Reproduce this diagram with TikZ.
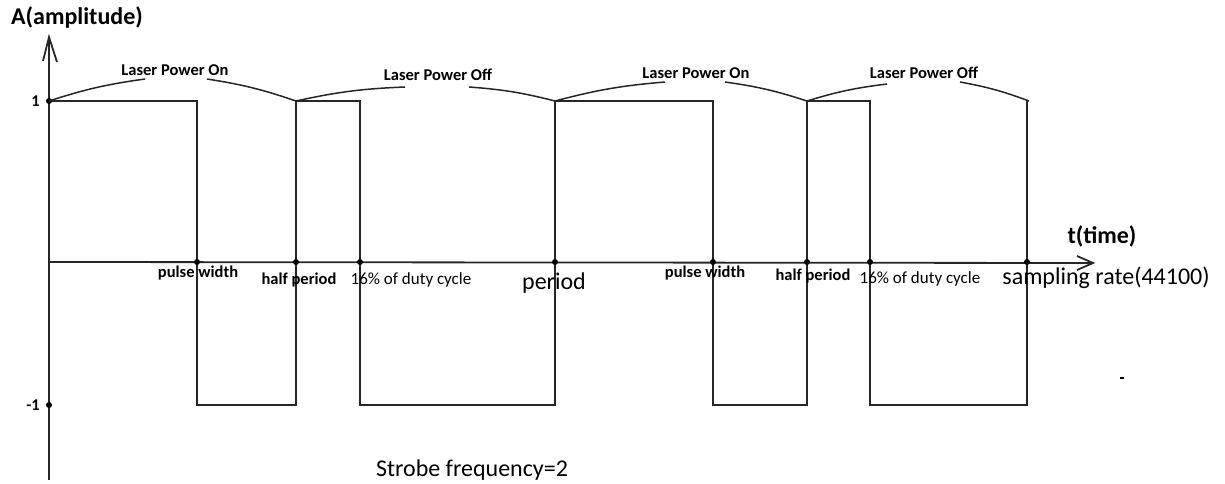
\documentclass[tikz,border=0pt]{standalone}
\usepackage{fontspec}
\setmainfont{Carlito}
\usetikzlibrary{arrows.meta}

\tikzset{
  line/.style={line width=1.8pt, draw=black!85},
  dot/.style={circle, fill=black, inner sep=0pt, minimum size=6pt},
  small/.style={font=\fontsize{17}{19}\selectfont, inner sep=0pt},
  smallbold/.style={font=\fontsize{16.5}{18}\selectfont\bfseries, inner sep=0pt},
  big/.style={font=\fontsize{24}{26}\selectfont, inner sep=0pt},
  bigbold/.style={font=\fontsize{24}{26}\selectfont\bfseries, inner sep=0pt},
  lead/.style={line width=1.5pt, draw=black!85, bend left=5},
}

\begin{document}
\begin{tikzpicture}[x=1pt, y=-1pt]
  \useasboundingbox (0,0) rectangle (1225,484);

  % axes
  \coordinate (ybot) at (49,480);
  \coordinate (ytop) at (49,37);
  \coordinate (xleft) at (49,262);
  \coordinate (xtip) at (1093,263);
  \draw[line] (ybot) -- (ytop);
  \draw[line] (43,61) -- (ytop) -- (57,62);
  \draw[line] (xleft) -- (xtip);
  \draw[line] (1077,256) -- (xtip) -- (1077,270);

  % square wave
  \draw[line] (49,101) -- (197,101) -- (197,405) -- (296,405) -- (296,101)
    -- (360,101) -- (360,405) -- (555,405) -- (555,101) -- (713,101)
    -- (713,405) -- (807,405) -- (807,101) -- (870,101) -- (870,405)
    -- (1027,405) -- (1027,101);

  % marks on the axes
  \node[dot] (yp) at (49,101) {};
  \node[dot] (ym) at (49,405) {};
  \node[dot] (t1) at (197,262) {};
  \node[dot] (t2) at (296,262) {};
  \node[dot] (t3) at (360,262) {};
  \node[dot] (t4) at (555,262) {};
  \node[dot] (t5) at (713,262) {};
  \node[dot] (t6) at (807,262) {};
  \node[dot] (t7) at (870,262) {};
  \node[dot] (t8) at (1027,262) {};
  \coordinate (h0) at (49,101);
  \coordinate (h2) at (296,101);
  \coordinate (h4) at (555,101);
  \coordinate (h6) at (807,101);
  \coordinate (h8) at (1029,101);

  % axis labels
  \node[bigbold] (alab) at (77,17) {A(amplitude)};
  \node[bigbold] (tlab) at (1102,236) {t(time)};
  \node[smallbold, anchor=east] (one) at (40,101) {1};
  \node[smallbold, anchor=east] (mone) at (40,405) {-1};

  % power state labels and their leaders
  \node[smallbold] (on1) at (175,70) {Laser Power On};
  \node[smallbold] (off1) at (438,75) {Laser Power Off};
  \node[smallbold] (on2) at (696,73) {Laser Power On};
  \node[smallbold] (off2) at (924,73) {Laser Power Off};
  \coordinate (on1l) at (145,79);  \coordinate (on1r) at (207,79);
  \coordinate (off1l) at (405,87); \coordinate (off1r) at (469,87);
  \coordinate (on2l) at (665,82);  \coordinate (on2r) at (725,82);
  \coordinate (off2l) at (887,84); \coordinate (off2r) at (960,82);
  \draw[lead] (h0) to (on1l);   \draw[lead] (on1r) to (h2);
  \draw[lead] (h2) to (off1l);  \draw[lead] (off1r) to (h4);
  \draw[lead] (h4) to (on2l);   \draw[lead] (on2r) to (h6);
  \draw[lead] (h6) to (off2l);  \draw[lead] (off2r) to (h8);

  % time labels
  \node[smallbold] (pw1) at (198,273) {pulse width};
  \node[smallbold] (hp1) at (299,280) {half period};
  \node[small] (dc1) at (411,280) {16\% of duty cycle};
  \node[big] (per) at (554,283) {period};
  \node[smallbold] (pw2) at (705,273) {pulse width};
  \node[smallbold] (hp2) at (813,276) {half period};
  \node[small] (dc2) at (920,279) {16\% of duty cycle};
  \node[big] (sr) at (1106,278) {sampling rate(44100)};

  \node[big] (sf) at (472,470) {Strobe frequency=2};

  % stray tick
  \draw[line width=1.8pt] (1120,378) -- (1124,378);
\end{tikzpicture}
\end{document}
